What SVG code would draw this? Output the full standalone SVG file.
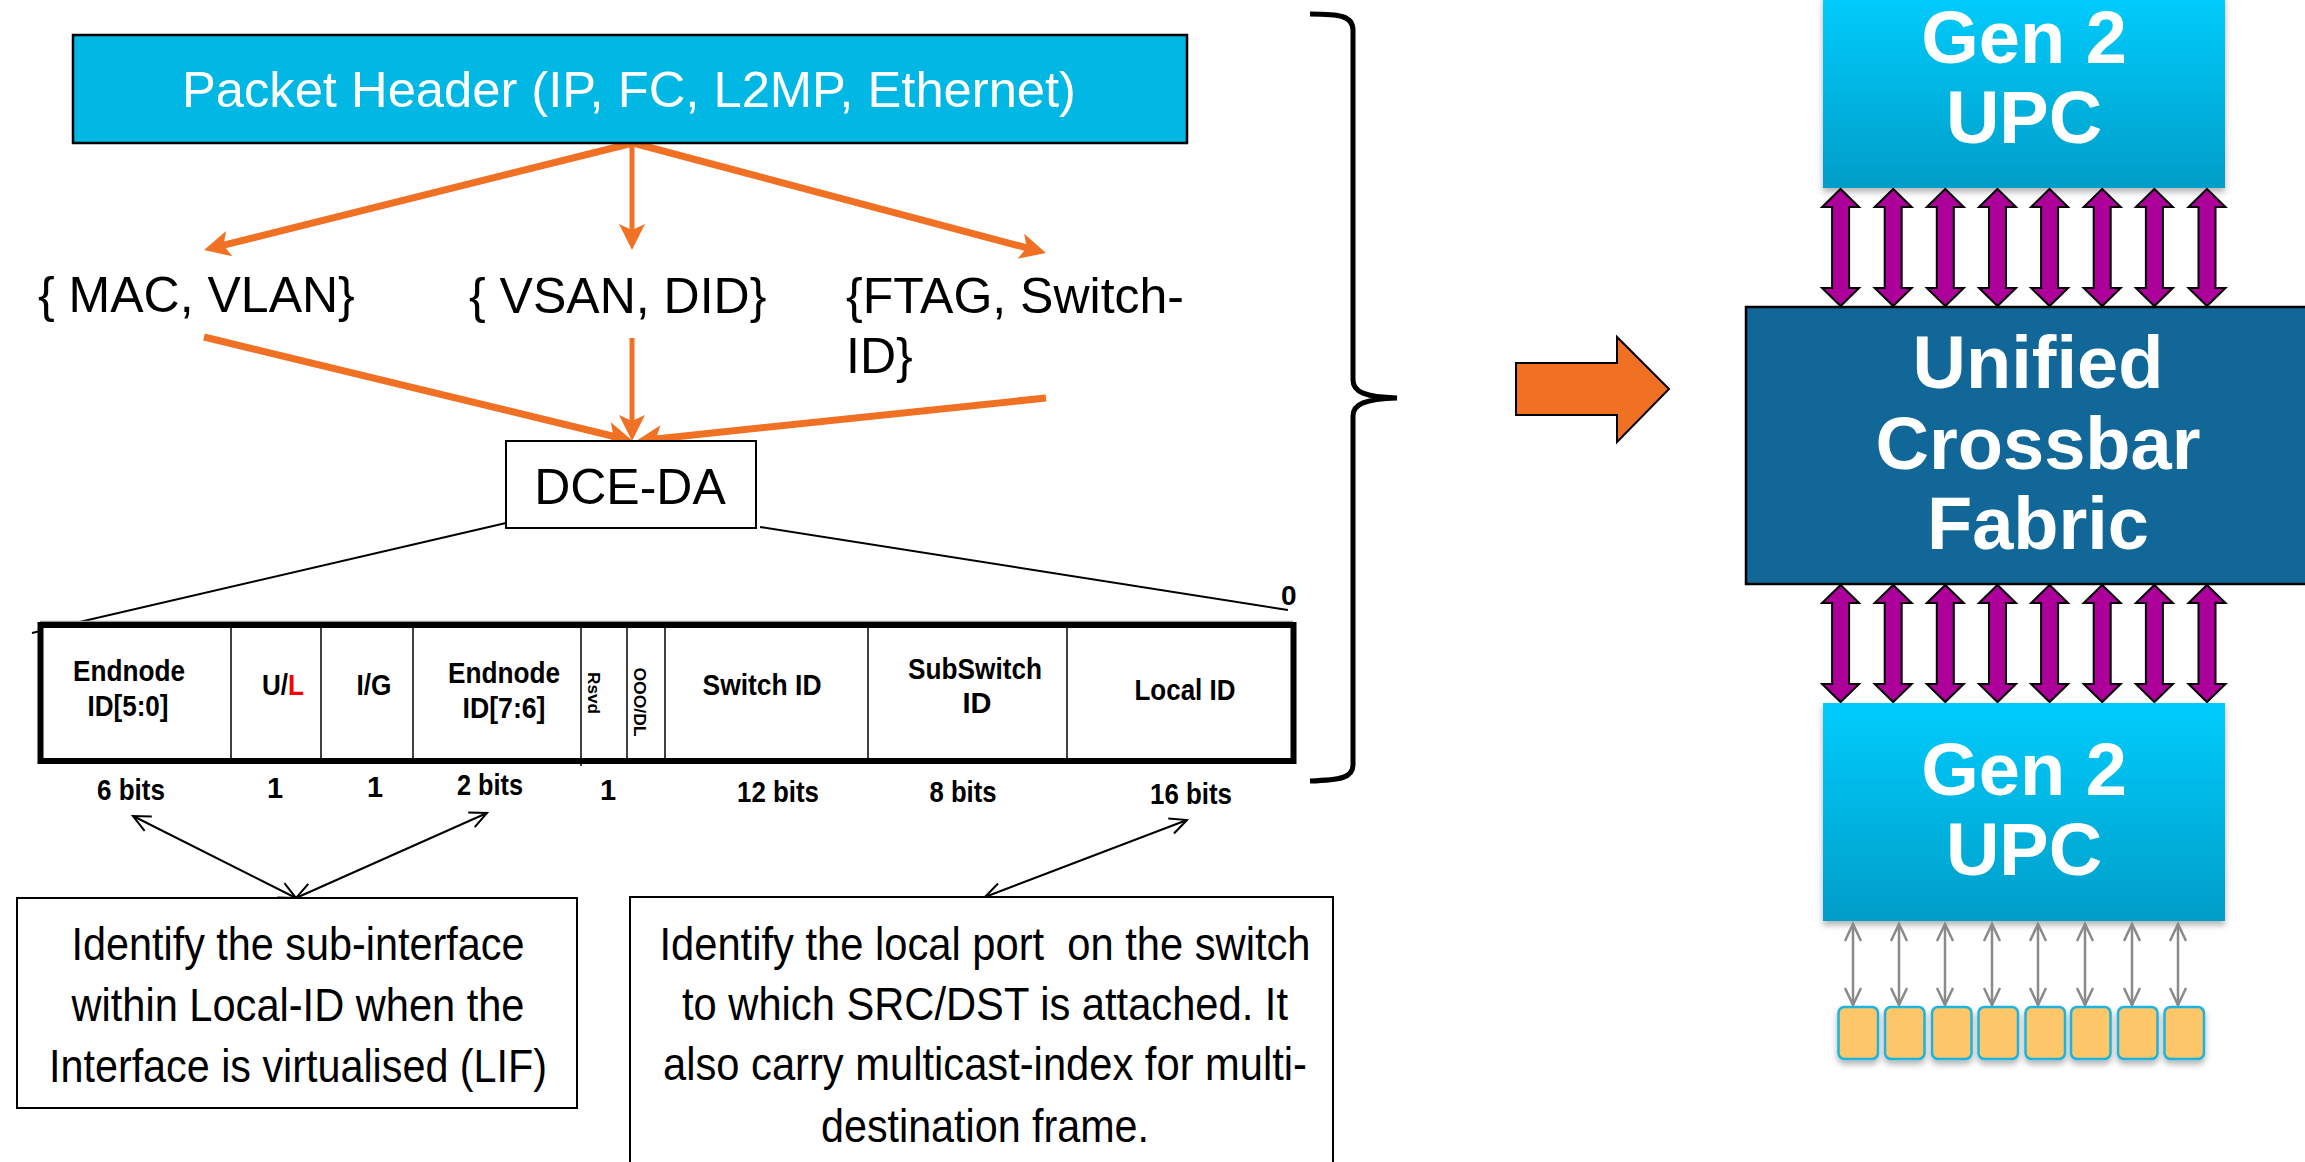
<svg xmlns="http://www.w3.org/2000/svg" width="2305" height="1162" viewBox="0 0 2305 1162">
<style>
.reg{font-family:"Liberation Sans",Arial,sans-serif;fill:#000}
.bold{font-family:"Liberation Sans",Arial,sans-serif;font-weight:bold;fill:#000}
.wb{font-family:"Liberation Sans",Arial,sans-serif;font-weight:bold;fill:#fff;text-anchor:middle}
.mid{text-anchor:middle}
.orT{stroke:#F07124;stroke-width:7;fill:none}
.orN{stroke:#F07124;stroke-width:5;fill:none}
.thin{stroke:#000;stroke-width:2;fill:none}
.div{stroke:#000;stroke-width:1.5}
.pur{fill:#AD009B;stroke:#000;stroke-width:2}
.gray{stroke:#8A8A8A;stroke-width:2.5;fill:none}
.port{fill:#FDC667;stroke:#1BB4DC;stroke-width:2.5}
</style>
<defs>
<marker id="oh" markerUnits="userSpaceOnUse" markerWidth="60" markerHeight="60" viewBox="-30 -30 60 60" refX="0" refY="0" orient="auto">
<path d="M15,0 L-11,-13 L-5,0 L-11,13 Z" fill="#F07124"/>
</marker>
<marker id="bv" markerUnits="userSpaceOnUse" markerWidth="40" markerHeight="40" viewBox="-20 -20 40 40" refX="0" refY="0" orient="auto-start-reverse">
<path d="M-17,-8 L0,0 L-17,8" fill="none" stroke="#000" stroke-width="2"/>
</marker>
<marker id="gv" markerUnits="userSpaceOnUse" markerWidth="40" markerHeight="40" viewBox="-20 -20 40 40" refX="0" refY="0" orient="auto-start-reverse">
<path d="M-17,-8 L0,0 L-17,8" fill="none" stroke="#8A8A8A" stroke-width="2.5"/>
</marker>
<linearGradient id="upc" x1="0" y1="0" x2="0" y2="1">
<stop offset="0" stop-color="#00CCFC"/>
<stop offset="1" stop-color="#009EC8"/>
</linearGradient>
<filter id="sh" x="-10%" y="-10%" width="120%" height="130%">
<feDropShadow dx="0" dy="4" stdDeviation="3" flood-color="#000" flood-opacity="0.3"/>
</filter>
<path id="parr" d="M0,0 L18.5,18 L8.5,18 L8.5,99 L18.5,99 L0,117 L-18.5,99 L-8.5,99 L-8.5,18 L-18.5,18 Z"/>
</defs>

<g id="connectors">
<line class="orT" x1="633" y1="143" x2="218.6" y2="246.4" marker-end="url(#oh)"/>
<line class="orN" x1="632" y1="143" x2="632" y2="235" marker-end="url(#oh)"/>
<line class="orT" x1="633" y1="143" x2="1031.5" y2="249.1" marker-end="url(#oh)"/>
<line class="orT" x1="204" y1="337" x2="618.4" y2="437.5" marker-end="url(#oh)"/>
<line class="orN" x1="632" y1="338" x2="632" y2="426" marker-end="url(#oh)"/>
<line class="orT" x1="1046" y1="398" x2="650.9" y2="439.4" marker-end="url(#oh)"/>
<line class="thin" x1="506" y1="523" x2="32" y2="633"/>
<line class="thin" x1="760" y1="527" x2="1288" y2="610"/>
<line class="thin" x1="133" y1="816" x2="296" y2="898" marker-start="url(#bv)" marker-end="url(#bv)"/>
<line class="thin" x1="487" y1="813" x2="296" y2="898" marker-start="url(#bv)" marker-end="url(#bv)"/>
<line class="thin" x1="1187" y1="820" x2="985" y2="897" marker-start="url(#bv)" marker-end="url(#bv)"/>
</g>

<g id="packet-header">
<rect x="73" y="35" width="1114" height="108" fill="#00B8E3" stroke="#000" stroke-width="2.5"/>
<text class="reg mid" x="629" y="107" font-size="50" textLength="894" lengthAdjust="spacingAndGlyphs" style="fill:#fff">Packet Header (IP, FC, L2MP, Ethernet)</text>
</g>

<g id="mac-vlan"><text class="reg" x="38" y="312" font-size="50">{ MAC, VLAN}</text></g>
<g id="vsan-did"><text class="reg" x="469" y="313" font-size="50">{ VSAN, DID}</text></g>
<g id="ftag-switch"><text class="reg" x="846" y="313" font-size="50">{FTAG, Switch-</text><text class="reg" x="846" y="373" font-size="50">ID}</text></g>

<g id="dce-da">
<rect x="506" y="441" width="250" height="87" fill="#fff" stroke="#000" stroke-width="2"/>
<text class="reg mid" x="630" y="504" font-size="50">DCE-DA</text>
</g>

<g id="field-table">
<line x1="40" y1="621.5" x2="1293" y2="621.5" stroke="#999" stroke-width="1.5"/>
<rect x="40.5" y="625" width="1253" height="136" fill="#fff" stroke="#000" stroke-width="6"/>
<line class="div" x1="231" y1="625" x2="231" y2="761"/>
<line class="div" x1="321" y1="625" x2="321" y2="761"/>
<line class="div" x1="413" y1="625" x2="413" y2="761"/>
<line class="div" x1="581" y1="625" x2="581" y2="766"/>
<line class="div" x1="627" y1="625" x2="627" y2="761"/>
<line class="div" x1="665" y1="625" x2="665" y2="761"/>
<line class="div" x1="868" y1="625" x2="868" y2="761"/>
<line class="div" x1="1067" y1="625" x2="1067" y2="761"/>
<text class="bold mid" x="129" y="681" font-size="29" textLength="112" lengthAdjust="spacingAndGlyphs">Endnode</text>
<text class="bold mid" x="128" y="716" font-size="29" textLength="81" lengthAdjust="spacingAndGlyphs">ID[5:0]</text>
<text class="bold mid" x="283" y="695" font-size="29" textLength="42" lengthAdjust="spacingAndGlyphs">U/<tspan style="fill:#f00">L</tspan></text>
<text class="bold mid" x="374" y="695" font-size="29" textLength="35" lengthAdjust="spacingAndGlyphs">I/G</text>
<text class="bold mid" x="504" y="683" font-size="29" textLength="112" lengthAdjust="spacingAndGlyphs">Endnode</text>
<text class="bold mid" x="504" y="718" font-size="29" textLength="83" lengthAdjust="spacingAndGlyphs">ID[7:6]</text>
<text class="bold mid" transform="translate(588,693) rotate(90)" font-size="17" textLength="42" lengthAdjust="spacingAndGlyphs">Rsvd</text>
<text class="bold mid" transform="translate(634,702) rotate(90)" font-size="17" textLength="69" lengthAdjust="spacingAndGlyphs">OOO/DL</text>
<text class="bold mid" x="762" y="695" font-size="29" textLength="119" lengthAdjust="spacingAndGlyphs">Switch ID</text>
<text class="bold mid" x="975" y="679" font-size="29" textLength="134" lengthAdjust="spacingAndGlyphs">SubSwitch</text>
<text class="bold mid" x="977" y="713" font-size="29">ID</text>
<text class="bold mid" x="1185" y="700" font-size="29" textLength="101" lengthAdjust="spacingAndGlyphs">Local ID</text>
<text class="bold" x="1281" y="605" font-size="28">0</text>
</g>

<g id="bit-widths">
<text class="bold mid" x="131" y="800" font-size="29" textLength="68" lengthAdjust="spacingAndGlyphs">6 bits</text>
<text class="bold mid" x="275" y="798" font-size="29">1</text>
<text class="bold mid" x="375" y="797" font-size="29">1</text>
<text class="bold mid" x="490" y="795" font-size="29" textLength="66" lengthAdjust="spacingAndGlyphs">2 bits</text>
<text class="bold mid" x="608" y="800" font-size="29">1</text>
<text class="bold mid" x="778" y="802" font-size="29" textLength="82" lengthAdjust="spacingAndGlyphs">12 bits</text>
<text class="bold mid" x="963" y="802" font-size="29" textLength="67" lengthAdjust="spacingAndGlyphs">8 bits</text>
<text class="bold mid" x="1191" y="804" font-size="29" textLength="82" lengthAdjust="spacingAndGlyphs">16 bits</text>
</g>

<g id="note-lif">
<rect x="17" y="898" width="560" height="210" fill="#fff" stroke="#000" stroke-width="2"/>
<text class="reg mid" x="298" y="960" font-size="47" textLength="453" lengthAdjust="spacingAndGlyphs">Identify the sub-interface</text>
<text class="reg mid" x="298" y="1021" font-size="47" textLength="453" lengthAdjust="spacingAndGlyphs">within Local-ID when the</text>
<text class="reg mid" x="298" y="1082" font-size="47" textLength="498" lengthAdjust="spacingAndGlyphs">Interface is virtualised (LIF)</text>
</g>

<g id="note-local-id">
<rect x="630" y="897" width="703" height="300" fill="#fff" stroke="#000" stroke-width="2"/>
<text class="reg mid" x="985" y="960" font-size="47" textLength="651" lengthAdjust="spacingAndGlyphs" xml:space="preserve">Identify the local port  on the switch</text>
<text class="reg mid" x="985" y="1020" font-size="47" textLength="606" lengthAdjust="spacingAndGlyphs">to which SRC/DST is attached. It</text>
<text class="reg mid" x="985" y="1080" font-size="47" textLength="644" lengthAdjust="spacingAndGlyphs">also carry multicast-index for multi-</text>
<text class="reg mid" x="985" y="1142" font-size="47" textLength="328" lengthAdjust="spacingAndGlyphs">destination frame.</text>
</g>

<g id="brace">
<path d="M1310,14 C1340,14 1353,16 1353,30 L1353,380 C1353,392 1365,397 1397,398 C1365,399 1353,404 1353,416 L1353,765 C1353,778 1340,780 1310,781" fill="none" stroke="#000" stroke-width="5"/>
</g>

<g id="block-arrow">
<path d="M1516,363 L1617,363 L1617,337 L1669,389 L1617,442 L1617,415 L1516,415 Z" fill="#F07124" stroke="#000" stroke-width="2"/>
</g>

<g id="upc-top">
<rect x="1823" y="-5" width="402" height="193" fill="url(#upc)" filter="url(#sh)"/>
<text class="wb" x="2024" y="63" font-size="74">Gen 2</text>
<text class="wb" x="2024" y="143" font-size="74">UPC</text>
</g>

<g id="links-top">
<use href="#parr" class="pur" x="1840.6" y="189"/>
<use href="#parr" class="pur" x="1893.2" y="189"/>
<use href="#parr" class="pur" x="1945.3" y="189"/>
<use href="#parr" class="pur" x="1997.5" y="189"/>
<use href="#parr" class="pur" x="2049.6" y="189"/>
<use href="#parr" class="pur" x="2102.2" y="189"/>
<use href="#parr" class="pur" x="2154.4" y="189"/>
<use href="#parr" class="pur" x="2207" y="189"/>
</g>

<g id="crossbar">
<rect x="1746" y="307" width="600" height="277" fill="#116898" stroke="#000" stroke-width="2.5"/>
<text class="wb" x="2038" y="388" font-size="74">Unified</text>
<text class="wb" x="2038" y="469" font-size="74">Crossbar</text>
<text class="wb" x="2038" y="549" font-size="74">Fabric</text>
</g>

<g id="links-bottom">
<use href="#parr" class="pur" x="1840.6" y="585"/>
<use href="#parr" class="pur" x="1893.2" y="585"/>
<use href="#parr" class="pur" x="1945.3" y="585"/>
<use href="#parr" class="pur" x="1997.5" y="585"/>
<use href="#parr" class="pur" x="2049.6" y="585"/>
<use href="#parr" class="pur" x="2102.2" y="585"/>
<use href="#parr" class="pur" x="2154.4" y="585"/>
<use href="#parr" class="pur" x="2207" y="585"/>
</g>

<g id="upc-bottom">
<rect x="1823" y="703" width="402" height="218" fill="url(#upc)" filter="url(#sh)"/>
<text class="wb" x="2024" y="795" font-size="74">Gen 2</text>
<text class="wb" x="2024" y="875" font-size="74">UPC</text>
</g>

<g id="port-links">
<line class="gray" x1="1853" y1="924" x2="1853" y2="1005" marker-start="url(#gv)" marker-end="url(#gv)"/>
<line class="gray" x1="1899" y1="924" x2="1899" y2="1005" marker-start="url(#gv)" marker-end="url(#gv)"/>
<line class="gray" x1="1945" y1="924" x2="1945" y2="1005" marker-start="url(#gv)" marker-end="url(#gv)"/>
<line class="gray" x1="1992" y1="924" x2="1992" y2="1005" marker-start="url(#gv)" marker-end="url(#gv)"/>
<line class="gray" x1="2038" y1="924" x2="2038" y2="1005" marker-start="url(#gv)" marker-end="url(#gv)"/>
<line class="gray" x1="2085" y1="924" x2="2085" y2="1005" marker-start="url(#gv)" marker-end="url(#gv)"/>
<line class="gray" x1="2132" y1="924" x2="2132" y2="1005" marker-start="url(#gv)" marker-end="url(#gv)"/>
<line class="gray" x1="2178" y1="924" x2="2178" y2="1005" marker-start="url(#gv)" marker-end="url(#gv)"/>
</g>

<g id="ports" filter="url(#sh)">
<rect class="port" x="1838.5" y="1007" width="39.5" height="52" rx="6"/>
<rect class="port" x="1885" y="1007" width="39.5" height="52" rx="6"/>
<rect class="port" x="1932" y="1007" width="39.5" height="52" rx="6"/>
<rect class="port" x="1978.5" y="1007" width="39.5" height="52" rx="6"/>
<rect class="port" x="2025.5" y="1007" width="39.5" height="52" rx="6"/>
<rect class="port" x="2071" y="1007" width="39.5" height="52" rx="6"/>
<rect class="port" x="2118" y="1007" width="39.5" height="52" rx="6"/>
<rect class="port" x="2164.5" y="1007" width="39.5" height="52" rx="6"/>
</g>
</svg>
